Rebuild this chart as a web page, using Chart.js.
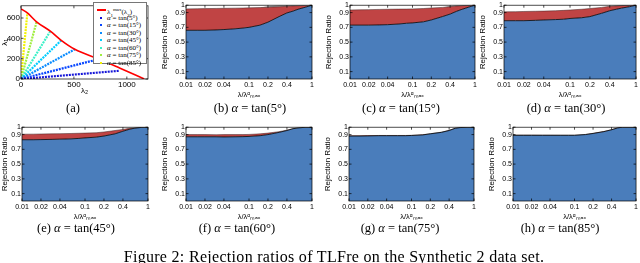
<!DOCTYPE html>
<html lang="en">
<head>
  <meta charset="UTF-8">
  <title>Rejection ratios of TLFre</title>
  <script src="https://cdn.jsdelivr.net/npm/chart.js"></script>
  <style>
    body { margin: 0; background: #fff; }
    #fig { position: relative; width: 640px; height: 263px; overflow: hidden; }
    #fig canvas { position: absolute; }
    .cap { position: absolute; font-family: "Liberation Serif", "DejaVu Serif", serif; font-size: 12.5px; color: #000; white-space: nowrap; transform: translate(-50%, -50%); }
    .legend { position: absolute; left: 93px; top: 2px; width: 54px; height: 62px; background: #fff; border: 1px solid #777; box-sizing: border-box; font-family: "Liberation Serif", serif; font-size: 7px; }
    .legend div { position: absolute; left: 0; height: 8px; line-height: 8px; white-space: nowrap; }
    .legend .mk { position: absolute; left: 3px; top: 3px; }
    .legend span.t { position: absolute; left: 13px; top: 0; }
  </style>
</head>
<body>
<div id="fig">
  <canvas id="pa" width="152" height="96" style="left:0;top:0"></canvas>
  <canvas id="pb" width="157" height="99" style="left:160px;top:0"></canvas>
  <canvas id="pc" width="156" height="99" style="left:324px;top:0"></canvas>
  <canvas id="pd" width="162" height="99" style="left:478px;top:0"></canvas>
  <canvas id="pe" width="153" height="99" style="left:0;top:122px"></canvas>
  <canvas id="pf" width="157" height="99" style="left:160px;top:122px"></canvas>
  <canvas id="pg" width="156" height="99" style="left:323px;top:122px"></canvas>
  <canvas id="ph" width="153" height="99" style="left:487px;top:122px"></canvas>
  <div class="legend" id="legend"></div>

  <div class="cap" style="left:73px;top:108px">(a)</div>
  <div class="cap" style="left:250px;top:108px">(b) <i>α</i> = tan(5°)</div>
  <div class="cap" style="left:401px;top:108px">(c) <i>α</i> = tan(15°)</div>
  <div class="cap" style="left:566px;top:108px">(d) <i>α</i> = tan(30°)</div>
  <div class="cap" style="left:76px;top:228px">(e) <i>α</i> = tan(45°)</div>
  <div class="cap" style="left:237px;top:228px">(f) <i>α</i> = tan(60°)</div>
  <div class="cap" style="left:400px;top:228px">(g) <i>α</i> = tan(75°)</div>
  <div class="cap" style="left:560px;top:228px">(h) <i>α</i> = tan(85°)</div>
  <div class="cap" style="left:334px;top:257px;font-size:16px;letter-spacing:0.3px">Figure 2: Rejection ratios of TLFre on the Synthetic 2 data set.</div>
</div>

<script>
  // ---- panel (a): boundary curve and rays ----
  const curveX = [0, 60, 147, 277, 380, 508, 745, 931, 1165];
  const curveY = [690, 650, 563, 470, 380, 292, 192, 108, 0];
  const rayLabels = ['α = tan(5°)', 'α = tan(15°)', 'α = tan(30°)', 'α = tan(45°)', 'α = tan(60°)', 'α = tan(75°)', 'α = tan(85°)'];
  const rayEndX = [931, 745, 508, 380, 277, 147, 60];
  const rayEndY = [81, 198, 292, 380, 470, 560, 650];
  const rayColors = ['#1414d8', '#0846ff', '#0a8cff', '#00ccff', '#3cf0c8', '#a0ee40', '#f2f200'];
  const aTicksX = [0, 500, 1000];
  const aTicksY = [0, 200, 400, 600];

  // ---- panels (b)-(h): rejection ratios vs lambda/lambda_max ----
  const lambdaRatio = [0.01, 0.015, 0.02, 0.03, 0.04, 0.06, 0.08, 0.1, 0.15, 0.2, 0.3, 0.4, 0.5, 0.6, 0.8, 1];
  const ratioTicksX = [0.01, 0.02, 0.04, 0.1, 0.2, 0.4, 1];
  const ratioTicksY = [0.1, 0.3, 0.5, 0.7, 0.9, 1];

  const blueB = [.66, .66, .66, .665, .67, .68, .69, .70, .73, .77, .845, .895, .92, .945, .975, 1];
  const redB  = [.95, .952, .954, .956, .958, .96, .962, .964, .968, .972, .978, .985, .99, .993, .997, 1];
  const grayB = [.95, .952, .954, .956, .958, .96, .962, .964, .968, .985, .998, 1, 1, .995, .997, 1];

  const blueC = [.73, .73, .73, .733, .736, .745, .755, .76, .775, .80, .845, .88, .915, .94, .975, 1];
  const redC  = [.935, .938, .94, .943, .945, .947, .948, .95, .955, .962, .97, .98, .988, .993, .998, 1];
  const grayC = [.935, .938, .94, .943, .945, .947, .948, .95, .955, .962, .97, .99, .997, .997, .998, 1];

  const blueD = [.79, .79, .79, .795, .80, .805, .81, .82, .83, .845, .89, .925, .945, .96, .98, 1];
  const redD  = [.91, .912, .915, .918, .92, .925, .93, .935, .945, .955, .97, .985, .99, .995, .999, 1];
  const grayD = [.91, .912, .915, .918, .92, .925, .93, .935, .945, .955, .97, .985, .997, .998, .999, 1];

  const blueE = [.83, .83, .832, .835, .838, .842, .848, .855, .865, .88, .91, .945, .97, .985, .998, 1];
  const redE  = [.905, .906, .908, .91, .912, .915, .918, .92, .925, .935, .955, .97, .985, .99, 1, 1];

  const blueF = [.87, .87, .87, .87, .868, .87, .872, .875, .885, .90, .93, .955, .98, .99, 1, 1];
  const redF  = [.90, .90, .90, .898, .90, .90, .90, .902, .91, .92, .94, .96, .98, .99, 1, 1];

  const blueG = [.88, .88, .882, .885, .885, .885, .885, .888, .895, .91, .93, .955, .985, .995, 1, 1];
  const redG  = [.885, .885, .886, .888, .888, .888, .888, .89, .898, .912, .932, .957, .987, .996, 1, 1];

  const blueH = [.89, .89, .89, .89, .89, .89, .89, .89, .90, .915, .94, .965, .99, 1, 1, 1];
  const redH  = [.894, .894, .894, .893, .893, .892, .892, .892, .902, .917, .942, .967, .991, 1, 1, 1];

  const sans = "'Liberation Sans', Arial, sans-serif";

  // box + inward tick marks, matlab style
  const boxPlugin = {
    id: 'box',
    afterDraw(chart) {
      const { ctx, chartArea: a, scales } = chart;
      ctx.save();
      ctx.strokeStyle = '#000';
      ctx.lineWidth = 0.7;
      ctx.strokeRect(a.left, a.top, a.right - a.left, a.bottom - a.top);
      ctx.beginPath();
      scales.x.ticks.forEach(t => {
        const px = scales.x.getPixelForValue(t.value);
        ctx.moveTo(px, a.top); ctx.lineTo(px, a.top + 2.5);
        ctx.moveTo(px, a.bottom); ctx.lineTo(px, a.bottom - 2.5);
      });
      scales.y.ticks.forEach(t => {
        const py = scales.y.getPixelForValue(t.value);
        ctx.moveTo(a.left, py); ctx.lineTo(a.left + 2.5, py);
        ctx.moveTo(a.right, py); ctx.lineTo(a.right - 2.5, py);
      });
      ctx.stroke();
      ctx.restore();
    }
  };

  const noGrid = { display: false, drawTicks: false, tickLength: 0 };

  // panel (a)
  const aSets = [{
    data: curveX.map((x, i) => ({ x, y: curveY[i] })),
    borderColor: '#ff0000', borderWidth: 1.6, pointRadius: 0, cubicInterpolationMode: 'monotone'
  }];
  rayEndX.forEach((ex, i) => {
    aSets.push({
      data: [{ x: 0, y: 0 }, { x: ex, y: rayEndY[i] }],
      borderColor: rayColors[i], borderWidth: 2.2, borderDash: [2, 1], pointRadius: 0
    });
  });

  new Chart(document.getElementById('pa'), {
    type: 'line',
    data: { datasets: aSets },
    options: {
      responsive: false, animation: false,
      layout: { padding: { top: 4, right: 4, left: 0, bottom: 0 } },
      plugins: { legend: { display: false }, tooltip: { enabled: false } },
      scales: {
        x: {
          type: 'linear', min: 0, max: 1200,
          afterBuildTicks: s => { s.ticks = aTicksX.map(v => ({ value: v })); },
          afterFit: s => { s.height = 17; },
          grid: noGrid, border: { display: false },
          ticks: { font: { size: 8, family: sans }, color: '#000', padding: 1, maxRotation: 0, callback: v => String(v) },
          title: { display: true, text: 'λ₂', font: { size: 8, family: sans }, color: '#000', padding: 0 }
        },
        y: {
          min: 0, max: 720,
          afterBuildTicks: s => { s.ticks = aTicksY.map(v => ({ value: v })); },
          afterFit: s => { s.width = 21; },
          grid: noGrid, border: { display: false },
          ticks: { font: { size: 8, family: sans }, color: '#000', padding: 1, callback: v => String(v) },
          title: { display: true, text: 'λ₁', font: { size: 8, family: sans }, color: '#000', padding: 0 }
        }
      }
    },
    plugins: [boxPlugin]
  });

  // legend of panel (a)
  const leg = document.getElementById('legend');
  const rowTop = [3, 10.5, 18, 25.5, 33, 40.5, 48, 55.5];
  let html = '<div style="top:' + rowTop[0] + 'px;width:54px"><span class="mk" style="width:9px;height:2px;background:#f00"></span>' +
             '<span class="t">λ<sub style="font-size:5px">1</sub><sup style="font-size:5px">max</sup>(λ<sub style="font-size:5px">2</sub>)</span></div>';
  rayLabels.forEach((lab, i) => {
    html += '<div style="top:' + rowTop[i + 1] + 'px;width:54px"><span class="mk" style="left:6px;width:2px;height:2px;background:' + rayColors[i] + '"></span>' +
            '<span class="t">' + lab.replace('α', '<i>α</i>') + '</span></div>';
  });
  leg.innerHTML = html;

  // panels (b)-(h)
  function ratioPanel(id, blue, red, gray, yWidth, rightPad) {
    const pts = arr => lambdaRatio.map((x, i) => ({ x, y: arr[i] }));
    const sets = [
      { data: pts(blue), borderColor: '#000', borderWidth: 0.8, backgroundColor: '#4a7dbb', fill: 'origin', pointRadius: 0 },
      { data: pts(red), borderColor: '#3a2020', borderWidth: 0.5, backgroundColor: '#c04444', fill: '-1', pointRadius: 0 }
    ];
    if (gray) {
      sets.push({ data: pts(gray), borderColor: 'rgba(0,0,0,0)', borderWidth: 0, backgroundColor: '#8a8a8a', fill: '-1', pointRadius: 0 });
    }
    new Chart(document.getElementById(id), {
      type: 'line',
      data: { datasets: sets },
      options: {
        responsive: false, animation: false,
        layout: { padding: { top: 3, right: rightPad, left: 0, bottom: 0 } },
        plugins: { legend: { display: false }, tooltip: { enabled: false } },
        scales: {
          x: {
            type: 'logarithmic', min: 0.01, max: 1,
            afterBuildTicks: s => { s.ticks = ratioTicksX.map(v => ({ value: v })); },
            afterFit: s => { s.height = 20; },
            grid: noGrid, border: { display: false },
            ticks: { font: { size: 7, family: sans }, color: '#000', padding: 2, maxRotation: 0, autoSkip: false,
                     callback: v => String(v) },
            title: { display: true, text: 'λ/λᵅₘₐₓ', font: { size: 7.5, family: sans }, color: '#000', padding: 0 }
          },
          y: {
            min: 0, max: 1,
            afterBuildTicks: s => { s.ticks = ratioTicksY.map(v => ({ value: v })); },
            afterFit: s => { s.width = yWidth; },
            grid: noGrid, border: { display: false },
            ticks: { font: { size: 7, family: sans }, color: '#000', padding: 1, callback: v => String(v) },
            title: { display: true, text: 'Rejection Ratio', font: { size: 8, family: sans }, color: '#000', padding: 0 }
          }
        }
      },
      plugins: [boxPlugin]
    });
  }

  ratioPanel('pb', blueB, redB, grayB, 26, 5);
  ratioPanel('pc', blueC, redC, grayC, 26, 5);
  ratioPanel('pd', blueD, redD, grayD, 26, 2);
  ratioPanel('pe', blueE, redE, null, 22, 5);
  ratioPanel('pf', blueF, redF, null, 26, 5);
  ratioPanel('pg', blueG, redG, null, 26, 5);
  ratioPanel('ph', blueH, redH, null, 26, 3);
</script>
</body>
</html>
